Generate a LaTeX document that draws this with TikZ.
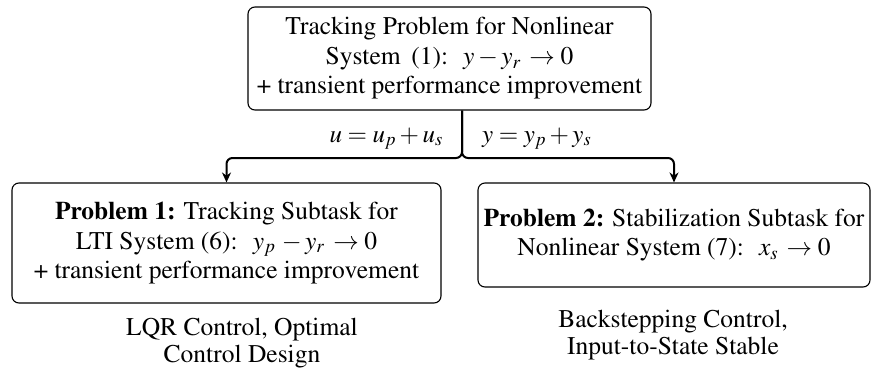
\documentclass[tikz,border=0pt]{standalone}
\usepackage[T1]{fontenc}
\usepackage{mathptmx}
\usetikzlibrary{arrows.meta}
\tikzset{
  probbox/.style={draw, line width=1.1pt, rounded corners=7pt, align=center,
    font=\fontsize{25.5}{29.5}\selectfont, inner sep=0pt},
  note/.style={align=center, font=\fontsize{25.5}{27.5}\selectfont},
  edgelbl/.style={font=\fontsize{25}{26}\selectfont, inner sep=0pt},
  link/.style={line width=2pt, rounded corners=6pt, -{Stealth[length=10pt,width=9pt]}}
}
\begin{document}
\begin{tikzpicture}[x=1pt,y=-1pt]
\useasboundingbox (0,0) rectangle (872,378);
% problem boxes
\node[probbox, minimum width=403pt, minimum height=103pt] (main) at (449.5,58.5)
  {Tracking Problem for Nonlinear\\ System\, (1):\; $y-y_r\mkern2mu\to 0$\\+ transient performance improvement};
\node[probbox, minimum width=429pt, minimum height=120pt] (p1) at (226.5,243)
  {\textbf{Problem 1:} Tracking Subtask for\\ LTI System (6):\; $y_p\mkern2mu-y_r\mkern2mu\to 0$\\+ transient performance improvement};
\node[probbox, minimum width=392pt, minimum height=104pt] (p2) at (674,235)
  {\textbf{Problem 2:} Stabilization Subtask for\\ Nonlinear System (7):\; $x_s\mkern2mu\to 0$};
% methods under each box
\node[note] (m1) at (242,343) {LQR Control, Optimal\\Control Design};
\node[note] (m2) at (673,335) {Backstepping Control,\\Input-to-State Stable};
% splitting connector
\coordinate (split) at (462,158);
\draw[link] (main.south -| split) -- (split) -- (split -| p1) -- (p1.north);
\draw[link] (main.south -| split) -- (split) -- (split -| p2) -- (p2.north);
% decomposition labels
\node[edgelbl, anchor=base east] (lu) at (443,142) {$u=u_p+u_s$};
\node[edgelbl, anchor=base west] (ly) at (482,142) {$y=y_p+y_s$};
\end{tikzpicture}
\end{document}
